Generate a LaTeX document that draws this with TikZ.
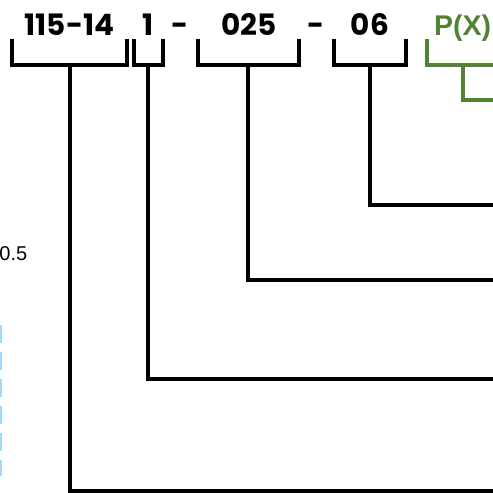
\documentclass[tikz,border=0pt]{standalone}
\usepackage{fontspec}
\setmainfont{Poppins}
\newfontfamily\labelfont{Liberation Sans}
\definecolor{codegreen}{RGB}{84,130,53}
\definecolor{guideblue}{RGB}{165,215,248}
\tikzset{
  code/.style={font=\fontsize{29.5}{32}\selectfont\bfseries, inner sep=0pt, anchor=base},
  bracket/.style={line width=3.2pt, line join=miter, line cap=rect},
  gbracket/.style={bracket, draw=codegreen},
}
\begin{document}
\begin{tikzpicture}[x=1pt,y=-1pt]
\useasboundingbox (0,0) rectangle (493,493);
% texts
\node[code] (t1) at (69.5,35.5) {115-14};
\node[code] (t2) at (148.5,35.5) {1};
\node[code] (h1) at (180.5,35.5) {-};
\node[code] (t3) at (249,35.5) {025};
\node[code] (h2) at (316.5,35.5) {-};
\node[code] (t4) at (370,35.5) {06};
\node[code, font=\labelfont\fontsize{28.5}{30}\selectfont\bfseries, anchor=base west, text=codegreen] (t5) at (434,35) {P(X)};
\node[font=\labelfont\fontsize{20}{22}\selectfont, inner sep=0pt, anchor=base east] (lab) at (27.5,260) {0.5};
% coordinates
\coordinate (b1l) at (12,41); \coordinate (b1r) at (127,41); \coordinate (b1s) at (70,65); \coordinate (b1e) at (500,491);
\coordinate (b2l) at (134,41); \coordinate (b2r) at (163,41); \coordinate (b2s) at (148,65); \coordinate (b2e) at (500,379);
\coordinate (b3l) at (198,41); \coordinate (b3r) at (299,41); \coordinate (b3s) at (248,65); \coordinate (b3e) at (500,280);
\coordinate (b4l) at (334,41); \coordinate (b4r) at (406,41); \coordinate (b4s) at (370,65); \coordinate (b4e) at (500,205);
\coordinate (b5l) at (427,41); \coordinate (b5r) at (500,65); \coordinate (b5s) at (463,65); \coordinate (b5e) at (500,100);
\coordinate (g1) at (0,325); \coordinate (g2) at (0,476);
% brackets
\draw[bracket] (b1l) |- (b1s) -| (b1r); \draw[bracket] (b1s) |- (b1e);
\draw[bracket] (b2l) |- (b2s) -| (b2r); \draw[bracket] (b2s) |- (b2e);
\draw[bracket] (b3l) |- (b3s) -| (b3r); \draw[bracket] (b3s) |- (b3e);
\draw[bracket] (b4l) |- (b4s) -| (b4r); \draw[bracket] (b4s) |- (b4e);
\draw[gbracket] (b5l) |- (b5r); \draw[gbracket] (b5s) |- (b5e);
% guide
\draw[guideblue, line width=3pt, dash pattern=on 18pt off 9pt] (g1) -- (g2);
\end{tikzpicture}
\end{document}
